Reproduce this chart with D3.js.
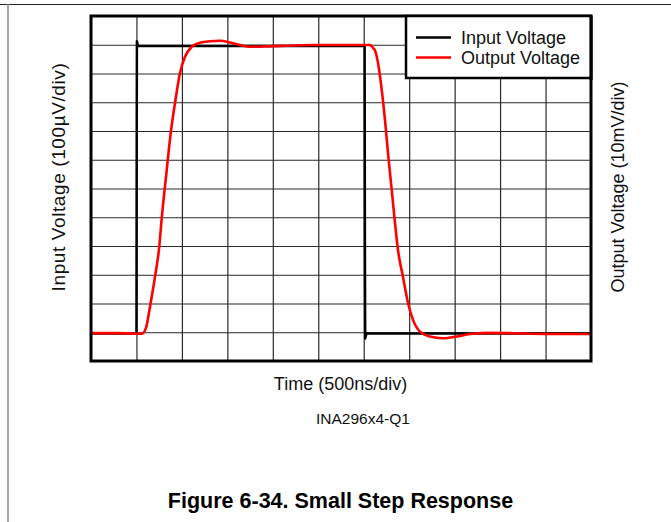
<!DOCTYPE html>
<html>
<head>
<meta charset="utf-8">
<script src="https://cdn.jsdelivr.net/npm/d3@7"></script>
<style>
  html, body { margin: 0; padding: 0; background: #fff; }
  svg { display: block; font-family: Arial, "Liberation Sans", sans-serif; }
</style>
</head>
<body>
<svg id="chart" width="671" height="522"></svg>
<script>
// ---- data (time in ns, input in µV, output in mV) ----
const inputTime = [0, 500, 503, 505, 509, 515, 3010, 3013, 3016, 3030, 5500];
const inputVolt = [-4, -4, 700, 1012, 1008, 996, 996, 300, -22, -4, -4];

const outputTime = [0, 300, 560, 605, 649, 704, 751, 778, 833, 877, 924, 979, 1034, 1108, 1199, 1309, 1419, 1529, 1639, 1749, 1914, 2079, 2442, 2739, 3069, 3102, 3124, 3157, 3198, 3234, 3267, 3308, 3344, 3377, 3432, 3487, 3542, 3619, 3729, 3872, 4023, 4169, 4422, 4683, 5049, 5500];
const outputVolt = [-0.3, -0.3, -0.5, 1.5, 8.9, 19.3, 29.8, 39.7, 56.4, 69.3, 79.7, 90.2, 95.8, 99.3, 100.7, 101.2, 101.4, 100.8, 99.9, 99.3, 99.4, 99.6, 99.9, 99.9, 99.9, 98.9, 98.0, 93.7, 84.3, 73.8, 62.3, 49.5, 38.0, 28.6, 19.2, 10.2, 4.3, 0.2, -1.5, -2.1, -1.5, -0.6, -0.2, -0.4, -0.6, -0.6];

const xDivs = 11, yDivs = 12;
const nsPerDiv = 500, uVPerDiv = 100, mVPerDiv = 10;
const seriesNames = ["Input Voltage", "Output Voltage"];
const seriesColors = ["#000000", "#ff0000"];

// ---- layout ----
const svg = d3.select("#chart");
const L = 91, R = 591, T = 16, B = 361;

const x = d3.scaleLinear().domain([0, xDivs * nsPerDiv]).range([L, R]);
const yIn = d3.scaleLinear().domain([-uVPerDiv, (yDivs - 1) * uVPerDiv]).range([B, T]);
const yOut = d3.scaleLinear().domain([-mVPerDiv, (yDivs - 1) * mVPerDiv]).range([B, T]);

// page frame lines
svg.append("line").attr("x1", 0).attr("x2", 671).attr("y1", 4.5).attr("y2", 4.5)
  .attr("stroke", "#222").attr("stroke-width", 1);
svg.append("line").attr("x1", 8).attr("x2", 8).attr("y1", 4).attr("y2", 522)
  .attr("stroke", "#888").attr("stroke-width", 1.5);

// grid
const g = svg.append("g");
const xAxis = d3.axisBottom(x).tickValues(d3.range(1, xDivs).map(d => d * nsPerDiv))
  .tickSize(-(B - T)).tickFormat("");
const yAxis = d3.axisLeft(yIn).tickValues(d3.range(0, yDivs - 1).map(d => d * uVPerDiv))
  .tickSize(-(R - L)).tickFormat("");
const gx = g.append("g").attr("transform", `translate(0,${B})`).call(xAxis);
const gy = g.append("g").attr("transform", `translate(${L},0)`).call(yAxis);
[gx, gy].forEach(a => {
  a.select(".domain").remove();
  a.selectAll(".tick line").attr("stroke", "#2a2a2a").attr("stroke-width", 1.2);
});

// traces
const lineIn = d3.line().x((d, i) => x(inputTime[i])).y((d, i) => yIn(inputVolt[i]));
const lineOut = d3.line().curve(d3.curveMonotoneX)
  .x((d, i) => x(outputTime[i])).y((d, i) => yOut(outputVolt[i]));

svg.append("path").datum(inputTime).attr("d", lineIn)
  .attr("fill", "none").attr("stroke", seriesColors[0]).attr("stroke-width", 2.5)
  .attr("stroke-linejoin", "round");
svg.append("path").datum(outputTime).attr("d", lineOut)
  .attr("fill", "none").attr("stroke", seriesColors[1]).attr("stroke-width", 2.6)
  .attr("stroke-linejoin", "round");

// plot border
svg.append("rect").attr("x", L).attr("y", T).attr("width", R - L).attr("height", B - T)
  .attr("fill", "none").attr("stroke", "#000").attr("stroke-width", 3);

// legend
const lg = svg.append("g");
lg.append("rect").attr("x", 406).attr("y", T).attr("width", R - 406).attr("height", 62)
  .attr("fill", "#fff").attr("stroke", "#000").attr("stroke-width", 2.5);
seriesNames.forEach((name, i) => {
  const yy = 37.5 + i * 20;
  lg.append("line").attr("x1", 416).attr("x2", 451).attr("y1", yy).attr("y2", yy)
    .attr("stroke", seriesColors[i]).attr("stroke-width", 2.5);
  lg.append("text").attr("x", 461).attr("y", yy + 6.3).attr("font-size", 18)
    .attr("fill", "#111").text(name);
});
// re-draw the right border over the legend
svg.append("line").attr("x1", R).attr("x2", R).attr("y1", T).attr("y2", 80)
  .attr("stroke", "#000").attr("stroke-width", 3);

// axis titles
svg.append("text").attr("x", 340.5).attr("y", 389.5).attr("text-anchor", "middle")
  .attr("font-size", 18).attr("fill", "#111").text("Time (500ns/div)");
svg.append("text").attr("transform", "translate(65,177) rotate(-90)").attr("text-anchor", "middle")
  .attr("font-size", 19).attr("letter-spacing", 0.6).attr("fill", "#111").text("Input Voltage (100µV/div)");
svg.append("text").attr("transform", "translate(624,187) rotate(-90)").attr("text-anchor", "middle")
  .attr("font-size", 18).attr("fill", "#111").text("Output Voltage (10mV/div)");
svg.append("text").attr("x", 363).attr("y", 424).attr("text-anchor", "middle")
  .attr("font-size", 15.5).attr("fill", "#111").text("INA296x4-Q1");
svg.append("text").attr("x", 340.5).attr("y", 507.5).attr("text-anchor", "middle")
  .attr("font-size", 21.5).attr("font-weight", "bold").attr("fill", "#000")
  .text("Figure 6-34. Small Step Response");
</script>
</body>
</html>
